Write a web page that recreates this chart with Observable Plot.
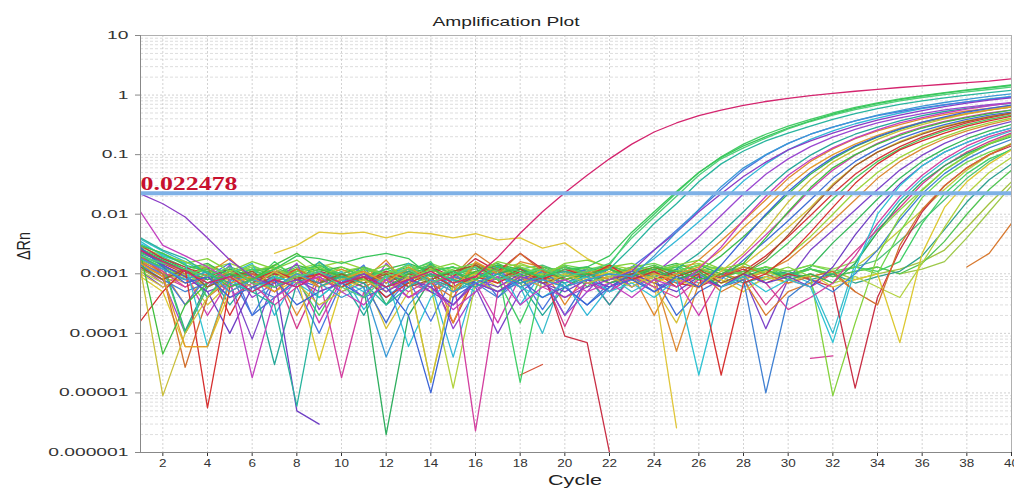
<!DOCTYPE html>
<html><head><meta charset="utf-8">
<script src="https://cdn.jsdelivr.net/npm/d3@7"></script>
<script src="https://cdn.jsdelivr.net/npm/@observablehq/plot@0.6"></script>
<style>body{margin:0;background:#fff} svg{display:block;background:#fff}</style>
</head><body><div id="chart"></div>
<script>
const cycles = [1,2,3,4,5,6,7,8,9,10,11,12,13,14,15,16,17,18,19,20,21,22,23,24,25,26,27,28,29,30,31,32,33,34,35,36,37,38,39,40];
const threshold = 0.022478;
const yTicks = [1e-6,1e-5,1e-4,1e-3,1e-2,1e-1,1,10];
const yTickLabels = ["0.000001","0.00001","0.0001","0.001","0.01","0.1","1","10"];
const xTicks = [2,4,6,8,10,12,14,16,18,20,22,24,26,28,30,32,34,36,38,40];

const w01 = [2.5e-3,1.6e-3,1.1e-3,7e-4,9e-4,5e-4,8e-4,6e-4,1e-3,7e-4,
 9e-4,6e-4,8e-4,1.1e-3,7e-4,9e-4,1.9e-3,4.8e-3,1.1e-2,2.3e-2,
 0.045,0.085,0.15,0.24,0.34,0.45,0.56,0.67,0.78,0.88,
 0.98,1.07,1.16,1.25,1.34,1.43,1.52,1.62,1.72,1.88];
const w02 = [3e-3,2.2e-3,1.4e-3,1.1e-3,6e-4,8e-4,1.2e-3,2e-3,1.8e-3,1.5e-3,
 1.9e-3,2.2e-3,1.8e-3,9e-4,1.1e-3,8e-4,1.3e-3,1.1e-3,9e-4,1.2e-3,
 1.3e-3,2e-3,5e-3,1.1e-2,2.4e-2,5e-2,9e-2,0.14,0.2,0.28,
 0.37,0.48,0.6,0.72,0.84,0.96,1.08,1.2,1.32,1.45];
const w03 = [2e-3,1.5e-3,1.2e-3,9e-4,1.3e-3,7e-4,6e-4,9e-4,1.1e-3,6e-4,
 4e-4,9e-4,1.2e-3,7e-4,1e-3,1.3e-3,8e-4,1e-3,1.2e-3,9e-4,
 1.1e-3,1.5e-3,4e-3,9e-3,2e-2,4.5e-2,8.5e-2,0.13,0.19,0.27,
 0.36,0.46,0.57,0.68,0.8,0.91,1.02,1.13,1.24,1.36];
const w04 = [4e-3,2.5e-3,1.8e-3,1e-3,7e-4,5e-4,3e-4,6e-6,6e-4,9e-4,
 7e-4,3e-4,6e-4,1e-3,8e-4,6e-4,1e-3,7e-4,9e-4,1.1e-3,
 9e-4,1.2e-3,2.8e-3,7e-3,1.5e-2,3.5e-2,7e-2,0.115,0.17,0.23,
 0.3,0.39,0.49,0.59,0.7,0.8,0.9,1.0,1.1,1.2];
const w05 = [1.8e-3,1.2e-3,8e-4,1.1e-3,5e-4,8e-4,6e-4,1e-3,7e-4,4e-4,
 6e-4,4e-5,3e-4,8e-4,5e-4,7e-4,1e-3,6e-4,8e-4,6e-4,
 8e-4,1e-3,9e-4,2e-3,5e-3,1.2e-2,2.9e-2,6e-2,0.1,0.155,
 0.22,0.29,0.37,0.46,0.55,0.65,0.75,0.85,0.95,1.05];
const w06 = [2.2e-2,1.5e-2,9e-3,4e-3,1.7e-3,9e-4,6e-4,8e-4,5e-4,7e-4,
 1e-3,5e-4,8e-4,6e-4,3e-4,7e-4,5e-4,9e-4,7e-4,4e-4,
 6e-4,8e-4,1.1e-3,2.5e-3,5e-3,1.1e-2,2.2e-2,4.3e-2,7.5e-2,0.12,
 0.17,0.23,0.3,0.38,0.46,0.55,0.64,0.73,0.82,0.9];
const w07 = [1.1e-2,3e-3,2e-3,1.3e-3,8e-4,1.8e-5,4e-4,7e-4,9e-4,5e-4,
 3e-4,8e-4,4e-4,6e-4,2.5e-4,5e-4,9e-4,3e-4,6e-4,8e-4,
 5e-4,7e-4,4e-4,8e-4,6e-4,1.2e-3,2.8e-3,8e-3,2e-2,4.5e-2,
 8.2e-2,0.13,0.19,0.26,0.34,0.42,0.5,0.58,0.66,0.74];
const w08 = [2.8e-3,1.3e-3,7e-4,9e-4,4e-4,6e-4,8e-4,3e-4,5e-4,7e-4,
 4e-4,6e-4,2e-4,1e-5,4e-4,7e-4,5e-4,8e-4,4e-4,6e-4,
 3e-4,6e-4,8e-4,5e-4,9e-4,6e-4,1.4e-3,3.8e-3,1e-2,2.4e-2,
 5e-2,9e-2,0.14,0.2,0.27,0.35,0.43,0.52,0.6,0.68];
const w09 = [1.5e-3,9e-4,6e-5,6e-5,7e-4,9e-4,5e-4,1e-3,6e-4,8e-4,
 1.1e-3,7e-4,1.3e-3,8e-4,5e-4,1.6e-3,1e-3,7e-4,1.2e-3,9e-4,
 1.1e-3,8e-4,1.2e-3,7e-4,1e-3,1.3e-3,2.5e-3,6e-3,1.3e-2,3e-2,
 6e-2,0.1,0.15,0.21,0.28,0.35,0.42,0.49,0.56,0.63];
const w10 = [1.2e-3,9e-6,1e-4,4e-4,9e-4,6e-4,1.1e-3,7e-4,3e-4,5e-4,
 8e-4,5e-4,9e-4,1.5e-5,6e-4,8e-4,5e-4,9e-4,6e-4,1e-3,
 7e-4,9e-4,6e-4,1e-3,8e-4,6e-4,1.1e-3,2.2e-3,5.5e-3,1.6e-2,
 3.8e-2,7.5e-2,0.12,0.18,0.25,0.32,0.4,0.48,0.56,0.64];
const w11 = [2.2e-3,4.5e-5,3e-4,7e-4,1e-3,8e-4,1.4e-3,2.2e-3,1.2e-3,9e-4,
 8e-4,6e-4,1e-3,1.3e-3,7e-4,1.1e-3,1.4e-3,9e-4,1.2e-3,8e-4,
 1e-3,1.2e-3,9e-4,1.3e-3,1.1e-3,8e-4,1e-3,1.5e-3,4e-3,1.1e-2,
 2.8e-2,6e-2,0.1,0.15,0.21,0.28,0.35,0.42,0.49,0.56];
const w12 = [1.3e-3,8e-4,1.2e-3,6e-4,9e-4,1.1e-3,6e-4,9e-4,7e-4,1e-3,
 7e-4,1e-3,6e-4,8e-4,1.1e-3,1.4e-3,8e-4,1.2e-3,7e-4,9e-4,
 1.1e-3,8e-4,1e-3,1.3e-3,9e-4,1.2e-3,7e-4,1e-3,1.8e-3,4.5e-3,
 1.2e-2,3e-2,6.5e-2,0.11,0.16,0.22,0.29,0.36,0.43,0.5];
const w13 = [1.6e-4,5e-4,1.2e-3,5.6e-6,6e-4,8e-4,1.1e-3,8e-4,1e-3,6e-4,
 9e-4,4e-4,7e-4,1e-3,6e-4,9e-4,7e-4,1.1e-3,8e-4,1.2e-3,
 9e-4,1.4e-3,8e-4,1.1e-3,6e-4,1e-3,2e-5,7e-4,1e-3,2e-3,
 5e-3,1.3e-2,3.3e-2,7e-2,0.12,0.17,0.23,0.3,0.37,0.44];
const w14 = [3.5e-3,2e-3,1.5e-3,6e-5,8e-4,5e-4,9e-4,7e-4,4e-4,8e-4,
 5e-4,9e-4,6e-5,4e-4,8e-4,5e-4,9e-4,6e-4,4e-4,7e-4,
 9e-4,5e-4,7e-4,4e-4,8e-4,2e-5,6e-4,9e-4,5e-4,8e-4,
 6e-4,7e-5,1.2e-3,1e-2,3e-2,6.5e-2,0.11,0.16,0.22,0.28];
const w15 = [2.5e-3,1.4e-3,9e-4,5e-4,1e-4,6e-4,9e-4,5e-6,3e-6,null,
 1e-3,6e-4,9e-4,5e-4,3e-4,8e-4,6e-4,1e-3,7e-4,5e-4,
 8e-4,6e-4,1e-3,7e-4,5e-4,9e-4,6e-4,1e-3,7e-4,9e-4,
 6e-4,1.3e-3,4.5e-3,1.3e-2,3.2e-2,6.5e-2,0.11,0.16,0.22,0.28];
const w16 = [1.9e-3,1.1e-3,6e-4,9e-4,4e-4,7e-4,3e-4,6e-4,9e-4,1.8e-5,
 5e-4,8e-4,4e-4,7e-4,9e-4,2.3e-6,5e-4,9e-4,6e-4,4e-4,
 7e-4,5e-4,9e-4,6e-4,4e-4,8e-4,6e-4,1e-3,7e-4,2.5e-4,
 4e-4,7e-4,2e-3,7e-3,2e-2,4.5e-2,8.5e-2,0.14,0.2,0.26];
const w17 = [3e-3,2.2e-3,1.5e-3,1.8e-3,1.1e-3,1.6e-3,1.2e-3,1.7e-3,9e-4,1.3e-3,
 1e-3,1.4e-3,8e-4,1.2e-3,1.5e-3,1e-3,1.6e-3,1.3e-3,9e-4,1.5e-3,
 1.7e-3,1.3e-3,1.5e-3,1.1e-3,1.4e-3,1.7e-3,1.2e-3,1.5e-3,1e-3,1.3e-3,
 9e-4,9e-6,1.5e-4,2e-3,9e-3,2.5e-2,5.5e-2,0.095,0.15,0.21];
const w18 = [2.4e-3,1.7e-3,1.1e-3,8e-4,1.2e-3,9e-4,6e-4,1e-3,7e-4,9e-4,
 6e-4,2e-6,2e-4,8e-4,1.1e-3,7e-4,1e-3,1.3e-3,8e-4,6e-4,
 1e-3,7e-4,9e-4,1.2e-3,8e-4,1.1e-3,6e-4,9e-4,1.2e-3,8e-4,
 1e-3,7e-4,1.5e-3,5e-3,1.5e-2,3.5e-2,6.5e-2,0.105,0.15,0.2];
const w19 = [2e-3,1e-3,2.7e-5,4e-4,8e-4,1e-3,7e-4,1.2e-3,8e-4,6e-4,
 1e-3,8e-4,1.2e-3,7e-4,4e-4,1.5e-3,1e-3,2.2e-3,1.1e-3,8e-4,
 1e-3,1.3e-3,9e-4,1.2e-3,8e-4,1.1e-3,9e-4,1.3e-3,1e-3,7e-4,
 9e-4,1.1e-3,5e-4,3e-4,3e-3,1.2e-2,3e-2,6e-2,0.1,0.15];
const w20 = [1.4e-3,8e-4,5e-4,7e-4,1e-3,6e-4,4e-4,8e-4,1.1e-3,7e-4,
 9e-4,4e-4,8e-4,6e-4,9e-4,7e-4,4e-4,8e-4,1.1e-3,6e-4,
 3e-4,7e-4,9e-4,5e-4,8e-4,1e-3,6e-4,8e-4,1e-5,4e-4,
 8e-4,5e-4,1e-3,2.5e-3,8e-3,2.2e-2,4.8e-2,8.5e-2,0.13,0.18];
const w21 = [9e-4,5e-4,6e-5,6e-5,5e-4,8e-4,6e-4,9e-4,3.5e-5,6e-4,
 8e-4,5e-4,9e-4,1.5e-5,7e-4,1e-3,6e-4,9e-4,7e-4,1e-3,
 8e-4,1.1e-3,7e-4,9e-4,6e-4,1e-3,8e-4,5e-4,9e-4,7e-4,
 1e-3,6e-4,8e-4,1e-3,7e-5,2.2e-3,1.3e-2,3.5e-2,7e-2,0.12];
const w22 = [1.7e-3,1.2e-3,9e-4,1.3e-3,1e-3,1.4e-3,9e-4,1.1e-3,1.3e-3,8e-4,
 1.2e-3,1e-3,1.4e-3,9e-4,1.2e-3,1.5e-3,1.1e-3,1.3e-3,1e-3,1.4e-3,
 1.2e-3,1e-3,1.3e-3,1.5e-3,1.1e-3,1.4e-3,1.2e-3,1e-3,1.3e-3,1.1e-3,
 1.4e-3,1.1e-3,1.3e-3,1e-3,5e-3,1.9e-2,4.2e-2,7.5e-2,0.11,0.15];
const w23 = [3e-3,1.8e-3,1.3e-3,9e-4,1.2e-3,7e-4,1e-3,8e-4,1.1e-3,9e-4,
 7e-4,1.1e-3,8e-4,1.3e-3,9e-4,1.8e-3,1.1e-3,2.2e-3,1.2e-3,9e-5,
 7e-5,1e-6,null,8e-4,1.1e-3,6e-4,9e-4,1.2e-3,7e-4,1e-3,
 8e-4,6e-4,1.2e-5,4e-4,2.5e-3,1.1e-2,3e-2,6e-2,0.1,0.14];
const w24 = [2e-3,1.4e-3,1e-4,6e-4,9e-4,1.2e-3,8e-4,1.1e-3,1.4e-3,1e-3,
 8e-4,1.2e-3,9e-4,1.1e-3,1.3e-3,8e-4,1.2e-3,1.5e-5,9e-4,1.3e-3,
 1e-3,1.2e-3,8e-4,1.1e-3,1.4e-3,9e-4,1.2e-3,1e-3,1.3e-3,9e-4,
 1.2e-3,1e-3,1.3e-3,1.1e-3,1.6e-3,7e-3,2.2e-2,4.8e-2,8.5e-2,0.12];
const w25 = [1.1e-3,7e-4,1e-3,6e-4,9e-4,5e-4,8e-4,1e-3,6e-4,9e-4,
 7e-4,1e-3,8e-4,6e-4,1.2e-5,7e-4,9e-4,6e-4,1e-3,8e-4,
 1e-3,7e-4,9e-4,1.2e-3,8e-4,1e-3,7e-4,9e-4,1.1e-3,8e-4,
 1e-3,7e-4,9e-4,6e-4,4e-4,1.5e-3,6e-3,2.2e-2,5e-2,9e-2];
const w26 = [2.6e-3,1.5e-3,1.1e-4,7e-4,1e-3,6e-4,9e-4,7e-4,1.1e-3,8e-4,
 1e-3,7e-4,1.1e-3,8e-4,6e-4,1e-3,8e-4,1.2e-3,9e-4,7e-4,
 1e-3,8e-4,1.1e-3,9e-4,1.2e-3,8e-4,1e-3,7e-4,9e-4,1.1e-3,
 8e-4,1e-3,7e-4,9e-4,1.1e-3,2e-3,5.5e-3,1.6e-2,3.8e-2,7e-2];
const w27 = [1.8e-3,1.3e-3,9e-4,1.2e-3,8e-4,1.1e-3,1.3e-3,9e-4,1.2e-3,1e-3,
 1.3e-3,9e-4,1.1e-3,1.4e-3,1e-3,1.2e-3,1.5e-3,1e-3,1.3e-3,1.1e-3,
 1e-3,1.3e-3,1.1e-3,1.4e-3,1e-3,1.2e-3,9e-4,1.1e-3,1.3e-3,1e-3,
 1.2e-3,9e-4,1.1e-3,1.3e-3,1e-3,1.5e-3,3.5e-3,1e-2,2.6e-2,5.5e-2];
const w28 = [1.2e-3,8e-4,1.1e-3,7e-4,1e-3,8e-4,1.2e-3,9e-4,7e-4,1e-3,
 8e-4,1.1e-3,9e-4,7e-4,1e-3,8e-4,1.2e-3,9e-4,1.1e-3,8e-4,
 1.1e-3,9e-4,1.2e-3,8e-4,1e-3,1.3e-3,9e-4,1.1e-3,8e-4,1e-3,
 9e-4,1.1e-3,8e-4,1e-3,1.2e-3,1.6e-3,2.5e-3,6e-3,1.5e-2,3.5e-2];
const w29 = [1.5e-3,9e-4,1.2e-3,7e-4,1.1e-3,8e-4,5e-4,1e-3,7e-4,9e-4,
 6e-4,9e-4,1.1e-3,7e-4,9e-4,2.2e-3,1.2e-3,8e-4,1e-3,1.3e-3,
 9e-4,1.2e-3,8e-4,1e-3,7e-4,1.1e-3,5e-4,8e-4,2e-4,5e-4,
 7e-4,1e-3,5e-4,null,null,null,null,1.3e-3,2.2e-3,7e-3];
const w30 = [null,null,null,null,null,null,2.2e-3,3e-3,5e-3,4.7e-3,
 5e-3,4e-3,5e-3,4.7e-3,4e-3,4.7e-3,3.7e-3,4e-3,2.7e-3,3.3e-3,
 1.8e-3,1.2e-3,9e-4,7e-4,2.6e-6,null,null,null,null,null,
 null,null,null,null,null,null,null,null,null,null];
const w31 = [null,null,null,null,null,null,null,null,null,null,
 null,null,null,null,null,null,null,2e-5,3e-5,null,
 null,null,null,null,null,null,null,null,null,null,
 null,null,null,null,null,null,null,null,null,null];
const w32 = [null,null,null,null,null,null,null,null,null,null,
 null,null,null,null,null,null,null,null,null,null,
 null,null,null,null,null,null,null,null,null,null,
 3.8e-5,4.2e-5,null,null,null,null,null,null,null,null];
const w33 = [2.6e-3,1.9e-3,1.3e-3,4e-4,1.2e-3,7e-4,1.6e-3,8e-4,2e-4,9e-4,
 1.2e-3,3e-4,1.1e-3,1.6e-3,5e-4,1e-3,8e-4,1.5e-4,1e-3,1.4e-3,
 6e-4,1.4e-3,4.5e-3,1e-2,2.3e-2,5e-2,9.2e-2,0.15,0.22,0.3,
 0.39,0.5,0.62,0.74,0.86,0.98,1.1,1.22,1.34,1.48];
const w34 = [1.5e-3,1e-3,3e-4,9e-4,1.5e-3,2e-4,8e-4,6e-4,1e-4,7e-4,
 1.4e-3,3e-4,8e-4,1.6e-4,9e-4,1.3e-3,4e-4,1e-3,2.5e-4,9e-4,
 1.2e-3,5e-4,1.3e-3,2.5e-3,5.4e-3,1.18e-2,2.6e-2,5.5e-2,9.8e-2,0.155,
 0.22,0.29,0.37,0.45,0.53,0.61,0.69,0.77,0.85,0.93];
const w35 = [3.2e-3,2.1e-3,1.5e-3,4e-4,1e-3,1.5e-3,2e-4,9e-4,7e-4,1.1e-3,
 2.5e-4,8e-4,1.5e-3,7e-4,4e-5,8e-4,1.4e-3,3e-4,1.1e-3,7e-4,
 2e-4,6e-4,1e-3,1.8e-3,3.6e-3,7.5e-3,1.6e-2,3.6e-2,7e-2,0.12,
 0.18,0.25,0.33,0.41,0.5,0.59,0.68,0.77,0.86,0.95];
const w36 = [1.2e-3,8e-4,1e-4,6e-4,1.4e-3,4e-4,7e-4,1.5e-3,2.5e-4,8e-4,
 4e-4,1.5e-3,6e-4,1e-3,1.2e-4,5e-4,1.2e-3,6e-4,9e-4,2e-4,
 5e-4,1.3e-3,6e-4,1e-3,2e-3,4.2e-3,9.5e-3,2.2e-2,4.7e-2,8.5e-2,
 0.136,0.197,0.266,0.34,0.415,0.49,0.565,0.63,0.69,0.75];
const w37 = [2e-3,1.2e-3,8e-4,1.1e-3,3e-4,9e-4,3e-5,7e-4,1.6e-3,8e-4,
 2e-4,1e-3,7e-4,1.5e-3,5e-4,8e-4,1.1e-3,7e-4,2e-4,6e-4,
 9e-4,3e-4,1e-3,7e-4,1.2e-3,2.2e-3,4.8e-3,1.1e-2,2.6e-2,5.5e-2,
 9.8e-2,0.155,0.22,0.29,0.37,0.45,0.53,0.6,0.67,0.73];
const w38 = [1.6e-3,1.1e-3,3e-4,1e-3,1.8e-3,8e-4,1.1e-3,2e-4,9e-4,1.2e-3,
 8e-4,1.7e-3,6e-4,1.4e-3,1.5e-4,1.1e-3,7e-4,1.6e-3,1.3e-3,3e-4,
 1.1e-3,7e-4,1e-3,2e-4,1e-3,1.7e-3,3.6e-3,7.8e-3,1.75e-2,4e-2,
 7.7e-2,0.125,0.185,0.25,0.32,0.4,0.47,0.54,0.6,0.66];
const w39 = [2.3e-3,1.6e-3,1.2e-3,1.5e-3,9e-4,1.2e-3,1e-3,1.4e-3,1.1e-3,1.3e-3,
 9e-4,1.2e-3,1.5e-3,1.1e-3,1.3e-3,1e-3,1.4e-3,1.2e-3,9e-4,1.3e-3,
 1.1e-3,1.4e-3,1e-3,1.2e-3,1.5e-3,1.1e-3,2e-3,4.2e-3,9.5e-3,2.2e-2,
 4.7e-2,8.5e-2,0.136,0.197,0.266,0.34,0.415,0.49,0.565,0.63];
const w40 = [1.3e-3,7e-4,1e-3,2e-4,8e-4,1e-3,6e-4,9e-4,1.5e-4,8e-4,
 6e-4,9e-4,5e-4,8e-4,1.1e-3,7e-4,1.5e-4,9e-4,6e-4,8e-4,
 1e-3,3e-4,9e-4,5e-4,8e-4,2e-4,9e-4,2e-3,4.5e-3,1.05e-2,
 2.6e-2,5.5e-2,9.8e-2,0.155,0.22,0.29,0.36,0.43,0.5,0.56];
const w41 = [2.1e-3,1.4e-3,9e-4,6e-4,1e-3,2e-4,4e-4,8e-4,6e-4,9e-4,
 7e-4,1.5e-4,8e-4,1e-3,6e-4,8e-4,5e-4,7e-4,9e-4,2e-4,
 8e-4,1e-3,6e-4,9e-4,2e-4,5e-4,8e-4,1.7e-3,3.6e-3,7.8e-3,
 1.75e-2,4e-2,7.7e-2,0.125,0.185,0.25,0.32,0.39,0.46,0.52];
const w42 = [1e-3,6e-4,9e-4,3e-4,7e-4,9e-4,5e-4,8e-4,1e-3,6e-4,
 9e-4,1.2e-4,5e-4,8e-4,6e-4,9e-4,1.1e-3,7e-4,9e-4,6e-4,
 9e-4,7e-4,1e-3,6e-4,1.5e-4,1e-3,7e-4,1.4e-3,2.8e-3,6e-3,
 1.3e-2,3.2e-2,6.5e-2,0.11,0.165,0.23,0.3,0.37,0.44,0.5];
const w43 = [2.7e-3,1.5e-3,1e-3,1.3e-3,2e-4,1e-3,8e-4,1.2e-3,6e-4,9e-4,
 1.1e-3,7e-4,1e-3,8e-4,1.5e-4,9e-4,1.3e-3,8e-4,1e-3,7e-4,
 1e-3,1.2e-3,8e-4,1.1e-3,7e-4,6e-4,1e-3,1.1e-3,2e-3,4.2e-3,
 9.5e-3,2.2e-2,4.7e-2,8.5e-2,0.136,0.197,0.266,0.34,0.415,0.49];
const w44 = [1.9e-3,1.3e-3,1e-3,1.2e-3,8e-4,1.1e-3,9e-4,1.3e-3,1e-3,7e-4,
 1.2e-3,9e-4,1.1e-3,1.4e-3,1e-3,8e-4,1.2e-3,1e-3,1.3e-3,9e-4,
 1.2e-3,1e-3,8e-4,1.1e-3,1.3e-3,9e-4,1.2e-3,1e-3,1.6e-3,3.3e-3,
 7.5e-3,1.8e-2,4e-2,7.7e-2,0.125,0.185,0.25,0.32,0.39,0.46];
const w45 = [2.8e-3,2e-3,1.6e-3,1.2e-3,1.5e-3,1.1e-3,1.4e-3,1e-3,1.3e-3,1.6e-3,
 1.2e-3,1e-3,1.4e-3,1.1e-3,1.3e-3,9e-4,1.2e-3,1.5e-3,1.1e-3,1.3e-3,
 1e-3,1.4e-3,1.2e-3,1e-3,1.3e-3,1.5e-3,1.1e-3,1.3e-3,1e-3,2e-3,
 4.2e-3,1e-2,2.4e-2,5e-2,9e-2,0.14,0.2,0.27,0.34,0.41];
const w46 = [1.7e-3,1e-3,7e-4,1e-3,6e-4,9e-4,1.2e-3,7e-4,1e-3,8e-4,
 1.1e-3,6e-4,9e-4,1.2e-3,8e-4,1e-3,7e-4,1.2e-3,9e-4,1.1e-3,
 8e-4,1e-3,1.3e-3,9e-4,5e-5,7e-4,1e-3,8e-4,1.1e-3,1.7e-3,
 3.6e-3,7.8e-3,1.75e-2,4e-2,7.7e-2,0.125,0.185,0.25,0.32,0.39];
const w47 = [1.1e-3,6e-4,9e-4,5e-4,7e-4,8e-5,8e-4,6e-4,9e-4,5e-4,
 7e-4,9e-4,4e-4,7e-4,1e-3,6e-4,1e-4,5e-4,9e-4,6e-4,
 8e-4,5e-4,9e-4,6e-4,8e-4,1e-3,6e-4,9e-4,1.2e-4,8e-4,
 2.5e-3,5.4e-3,1.18e-2,2.6e-2,5.5e-2,9.8e-2,0.155,0.22,0.29,0.36];
const w48 = [2.5e-3,1.8e-3,1.2e-3,9e-4,1.3e-3,1e-3,7e-4,1.1e-3,1.4e-3,9e-4,
 1.2e-3,1e-3,1.3e-3,8e-4,1.1e-3,1.4e-3,1e-3,1.2e-3,9e-4,1.1e-3,
 1.3e-3,1e-3,1.2e-3,9e-4,1.1e-3,1.4e-3,1e-3,1.3e-3,1.1e-3,9e-4,
 1.3e-3,3.3e-3,7.5e-3,1.8e-2,4e-2,7.7e-2,0.125,0.185,0.25,0.32];
const w49 = [1.6e-3,9e-4,6e-4,9e-4,5e-4,8e-4,1.1e-3,1.2e-4,8e-4,6e-4,
 9e-4,1.1e-3,7e-4,5e-4,8e-4,6e-4,9e-4,7e-4,1e-3,1.3e-4,
 8e-4,6e-4,9e-4,1.1e-3,7e-4,9e-4,6e-4,1e-3,3e-4,8e-4,
 6e-4,1e-3,2.4e-3,5.5e-3,1.3e-2,3.2e-2,6.5e-2,0.11,0.165,0.23];
const w50 = [3.8e-3,2.4e-3,1.6e-3,1e-3,7e-4,1e-3,6e-4,9e-4,4e-4,8e-4,
 1e-3,6e-4,8e-4,5e-4,9e-4,7e-4,1e-3,6e-4,1e-4,1.1e-3,
 7e-4,9e-4,5e-4,8e-4,1e-3,7e-4,9e-4,6e-4,8e-4,1e-3,
 7e-4,1e-4,1.5e-3,6e-3,1.75e-2,4e-2,7.7e-2,0.125,0.185,0.25];
const w51 = [2e-3,1.5e-3,1.1e-3,1.4e-3,1e-3,1.3e-3,9e-4,1.2e-3,1.5e-3,1.1e-3,
 1.3e-3,1e-3,1.2e-3,1.5e-3,1.1e-3,1.3e-3,1e-3,1.4e-3,1.2e-3,9e-4,
 1.2e-3,1.4e-3,1e-3,1.3e-3,1.1e-3,1.4e-3,1.2e-3,1e-3,1.3e-3,1.1e-3,
 1.4e-3,1.2e-3,1.6e-3,5e-3,1.18e-2,2.6e-2,5.5e-2,9.8e-2,0.155,0.22];
const w52 = [1.4e-3,9e-4,1.2e-3,8e-4,1.1e-3,7e-4,1e-3,1.2e-3,8e-4,1e-3,
 7e-4,1.1e-3,9e-4,1.2e-3,8e-4,1e-3,1.3e-3,9e-4,1.1e-3,8e-4,
 1e-3,1.2e-3,8e-4,1.1e-3,9e-4,1.2e-3,1e-3,8e-4,1.1e-3,9e-4,
 1.2e-3,1e-3,1.3e-3,2.5e-3,5.4e-3,1.18e-2,2.6e-2,5.5e-2,9.8e-2,0.155];
const w53 = [2.2e-3,1.6e-3,1.1e-3,1.4e-3,1e-3,1.3e-3,1.1e-3,9e-4,1.2e-3,1e-3,
 1.3e-3,1e-3,1.2e-3,9e-4,1.1e-3,1.3e-3,1e-3,1.2e-3,1.4e-3,1e-3,
 1.2e-3,1e-3,1.3e-3,1.1e-3,9e-4,1.2e-3,1e-3,1.3e-3,1.1e-3,1e-3,
 1.2e-3,1e-3,1.3e-3,1.7e-3,3.6e-3,7.8e-3,1.75e-2,4e-2,7.7e-2,0.125];
const w54 = [1.3e-3,1e-3,8e-4,1.1e-3,9e-4,1.2e-3,8e-4,1e-3,1.3e-3,9e-4,
 1.1e-3,8e-4,1e-3,1.2e-3,9e-4,1.1e-3,8e-4,1.2e-3,1e-3,9e-4,
 1.1e-3,9e-4,1.2e-3,1e-3,8e-4,1.1e-3,1.3e-3,9e-4,1.1e-3,1e-3,
 1.2e-3,9e-4,1.1e-3,1.3e-3,1e-3,1.2e-3,1.6e-3,4e-3,1.1e-2,3e-2];

const wells = [w01,w02,w03,w04,w05,w06,w07,w08,w09,w10,w11,w12,w13,w14,w15,w16,w17,w18,
  w19,w20,w21,w22,w23,w24,w25,w26,w27,w28,w29,w30,w31,w32,w33,w34,w35,w36,
  w37,w38,w39,w40,w41,w42,w43,w44,w45,w46,w47,w48,w49,w50,w51,w52,w53,w54];
const wellColors = ["#d4246e","#39c65a","#4fd17a","#28b49e","#3b9ad6","#8b3cc6","#c23fbf","#3b64d6",
  "#e39a2a","#c9bf3a","#41be3f","#a2582c","#d62f2f","#2fc3d3","#6f3fc4","#d33f9f",
  "#84d23c","#2eae5e","#d2702e","#4080d2","#dcc830","#6fd64e","#c92f45","#3fcf65",
  "#b3d23f","#2fa08e","#52c452","#a2c23e","#d87a30","#e0c63a","#d9533a","#d8409a",
  "#44cc66","#4a78e0","#33b8d8","#9a47d0","#26a89a","#e08a2e","#3dbb4c","#cc3fb0",
  "#3f6ed4","#d6c23a","#d4373a","#47c95e","#9bd43a","#dd8a35","#7d45c9","#35b85a",
  "#d23c8c","#38bccc","#8fd850","#c0cc3e","#4ec27a","#9ec94a"];

const rows = [];
for (let i = wells.length - 1; i >= 0; i--) {
  wells[i].forEach((v, j) => rows.push({well: i, cycle: cycles[j], value: v == null ? NaN : v, color: wellColors[i]}));
}

const minorY = [];
for (let e = -6; e < 1; e++) for (let m = 2; m < 10; m++) minorY.push(m * Math.pow(10, e));

const chart = Plot.plot({
  width: 1014, height: 488,
  marginLeft: 140, marginRight: 3, marginTop: 35, marginBottom: 36,
  style: {fontFamily: "'Liberation Sans', Arial, sans-serif", background: "#fff"},
  x: {domain: [1, 40]},
  y: {type: "log", domain: [1e-6, 10]},
  marks: [
    Plot.ruleY(minorY, {stroke: "#cfcfcf", strokeWidth: 0.7, strokeDasharray: "3,2"}),
    Plot.ruleY(yTicks, {stroke: "#c4c4c4", strokeWidth: 0.8, strokeDasharray: "2,2"}),
    Plot.ruleX(xTicks, {stroke: "#c8c8c8", strokeWidth: 0.8, strokeDasharray: "2,2"}),
    Plot.frame({stroke: "#b0b0b0"}),
    Plot.line(rows, {x: "cycle", y: "value", z: "well", stroke: "color", strokeWidth: 1.3, clip: true}),
    Plot.ruleY([threshold], {stroke: "#7fb1e6", strokeWidth: 4}),
    Plot.text([{x: 1, y: threshold, t: threshold.toFixed(6)}], {x: "x", y: "y", text: "t", textAnchor: "start", dy: -9, dx: 0,
      fill: "#c8102e", fontSize: 18, fontWeight: "bold", fontFamily: "'Liberation Serif', 'Times New Roman', serif",
      className: "thr-label"}),
    Plot.axisY({ticks: yTicks, tickFormat: (d) => yTickLabels[yTicks.indexOf(d)], tickSize: 5, tickPadding: 7, fontSize: 11, color: "#333", label: null, stroke: "#888"}),
    Plot.axisX({ticks: xTicks, tickSize: 4, tickPadding: 3, fontSize: 10, color: "#333", label: null}),
    Plot.ruleX([1], {stroke: "#888"}),
    Plot.ruleY([1e-6], {stroke: "#888"})
  ]
});
document.getElementById("chart").appendChild(chart);
const svg = d3.select(chart);

function stretch(sel, factor) {
  sel.each(function() {
    const w = this.getComputedTextLength();
    this.setAttribute("textLength", (w * factor).toFixed(1));
    this.setAttribute("lengthAdjust", "spacingAndGlyphs");
  });
}
stretch(svg.selectAll("g[aria-label='y-axis tick label'] text"), 1.75);
stretch(svg.selectAll("g[aria-label='x-axis tick label'] text"), 1.35);
svg.selectAll(".thr-label text").attr("textLength", 97).attr("lengthAdjust", "spacingAndGlyphs");

svg.append("text").attr("x", 506).attr("y", 26).attr("text-anchor", "middle")
  .attr("font-size", 12.5).attr("fill", "#222").attr("textLength", 147).attr("lengthAdjust", "spacingAndGlyphs")
  .text("Amplification Plot");
svg.append("text").attr("transform", "translate(30,246) rotate(-90) scale(1,1.4)").attr("text-anchor", "middle")
  .attr("font-size", 13).attr("fill", "#222").attr("textLength", 28).attr("lengthAdjust", "spacingAndGlyphs").text("ΔRn");
svg.append("text").attr("x", 575).attr("y", 485).attr("text-anchor", "middle")
  .attr("font-size", 14.5).attr("fill", "#222").attr("textLength", 54).attr("lengthAdjust", "spacingAndGlyphs").text("Cycle");
</script></body></html>
